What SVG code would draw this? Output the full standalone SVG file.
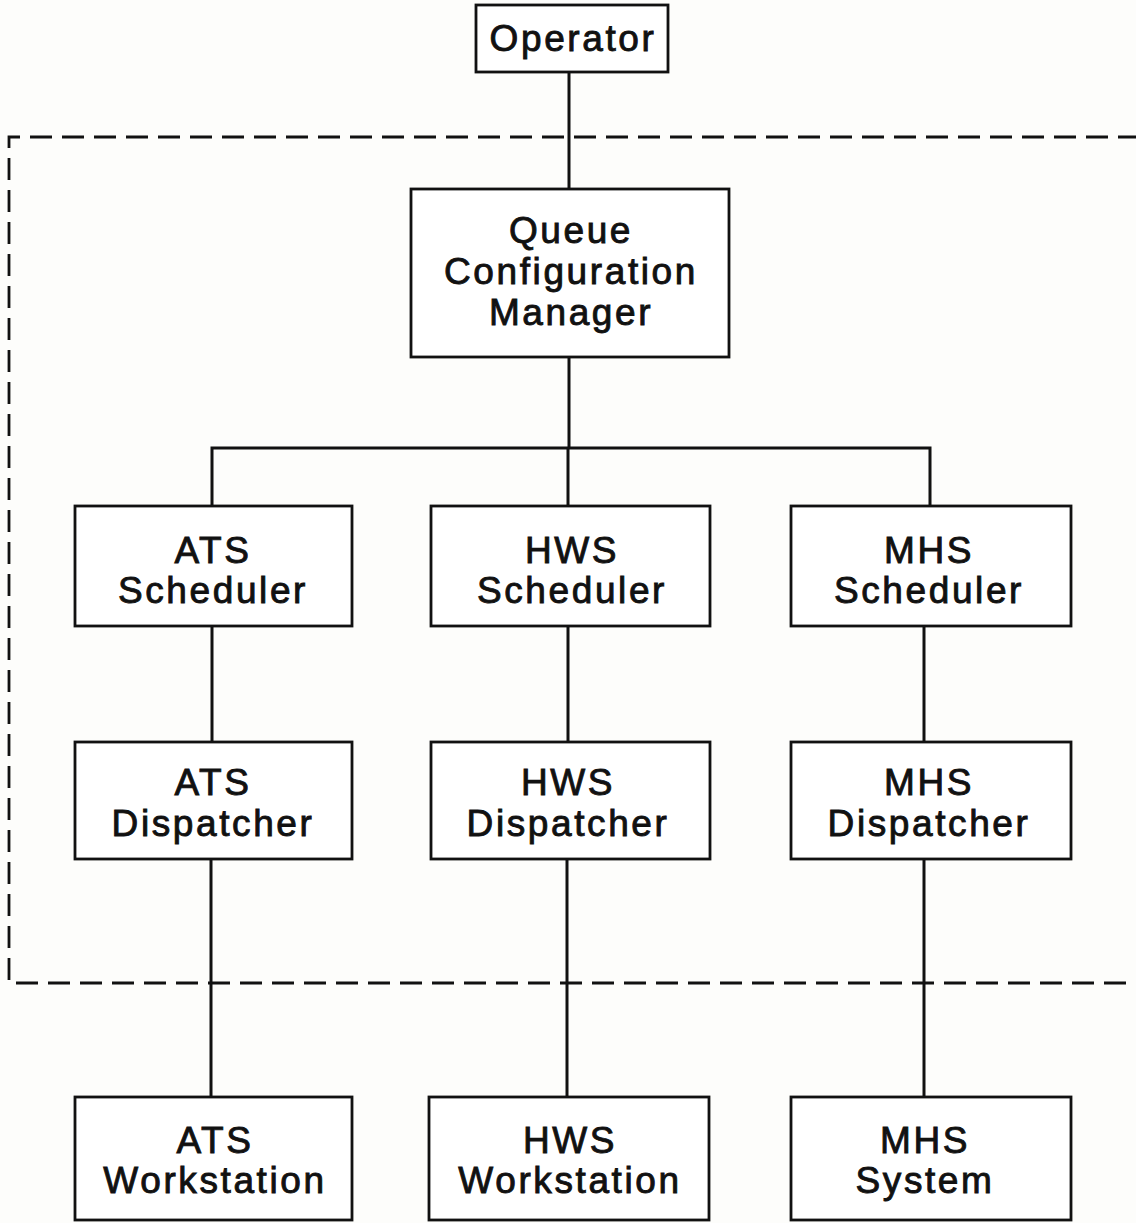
<svg xmlns="http://www.w3.org/2000/svg" width="1136" height="1223" viewBox="0 0 1136 1223">
<style>
.box{fill:#fff;stroke:#111;stroke-width:2.8}
.t{font-family:"Liberation Sans",Arial,sans-serif;font-size:37px;letter-spacing:2.6px;fill:#111;stroke:#111;stroke-width:0.9;text-anchor:middle}
.c{stroke:#111;stroke-width:3;fill:none}
.d{stroke:#111;stroke-width:2.8;fill:none;stroke-dasharray:22 10}
</style>
<rect width="1136" height="1223" fill="#fdfdfb"/>
<g id="boundary"><path class="d" d="M1140 137 H9 V983 H1140"/></g>
<g id="connectors">
<line class="c" x1="569" y1="72" x2="569" y2="189"/>
<line class="c" x1="569" y1="357" x2="569" y2="448"/>
<polyline class="c" points="212,506 212,448 930,448 930,506"/>
<line class="c" x1="568" y1="448" x2="568" y2="506"/>
<line class="c" x1="212" y1="626" x2="212" y2="742"/>
<line class="c" x1="568" y1="626" x2="568" y2="742"/>
<line class="c" x1="924" y1="626" x2="924" y2="742"/>
<line class="c" x1="211" y1="859" x2="211" y2="1097"/>
<line class="c" x1="567" y1="859" x2="567" y2="1097"/>
<line class="c" x1="924" y1="859" x2="924" y2="1097"/>
</g>
<g id="operator"><rect class="box" x="476" y="5" width="192" height="67"/><text class="t" x="573" y="51">Operator</text></g>
<g id="qcm"><rect class="box" x="411" y="189" width="318" height="168"/><text class="t" x="571" y="243">Queue</text><text class="t" x="571" y="284">Configuration</text><text class="t" x="571" y="325">Manager</text></g>
<g id="ats-scheduler"><rect class="box" x="75" y="506" width="277" height="120"/><text class="t" x="213" y="563">ATS</text><text class="t" x="213" y="603">Scheduler</text></g>
<g id="hws-scheduler"><rect class="box" x="431" y="506" width="279" height="120"/><text class="t" x="572" y="563">HWS</text><text class="t" x="572" y="603">Scheduler</text></g>
<g id="mhs-scheduler"><rect class="box" x="791" y="506" width="280" height="120"/><text class="t" x="929" y="563">MHS</text><text class="t" x="929" y="603">Scheduler</text></g>
<g id="ats-dispatcher"><rect class="box" x="75" y="742" width="277" height="117"/><text class="t" x="213" y="795">ATS</text><text class="t" x="213" y="836">Dispatcher</text></g>
<g id="hws-dispatcher"><rect class="box" x="431" y="742" width="279" height="117"/><text class="t" x="568" y="795">HWS</text><text class="t" x="568" y="836">Dispatcher</text></g>
<g id="mhs-dispatcher"><rect class="box" x="791" y="742" width="280" height="117"/><text class="t" x="929" y="795">MHS</text><text class="t" x="929" y="836">Dispatcher</text></g>
<g id="ats-workstation"><rect class="box" x="75" y="1097" width="277" height="123"/><text class="t" x="215" y="1153">ATS</text><text class="t" x="215" y="1193">Workstation</text></g>
<g id="hws-workstation"><rect class="box" x="429" y="1097" width="280" height="123"/><text class="t" x="570" y="1153">HWS</text><text class="t" x="570" y="1193">Workstation</text></g>
<g id="mhs-system"><rect class="box" x="791" y="1097" width="280" height="123"/><text class="t" x="925" y="1153">MHS</text><text class="t" x="925" y="1193">System</text></g>
</svg>
